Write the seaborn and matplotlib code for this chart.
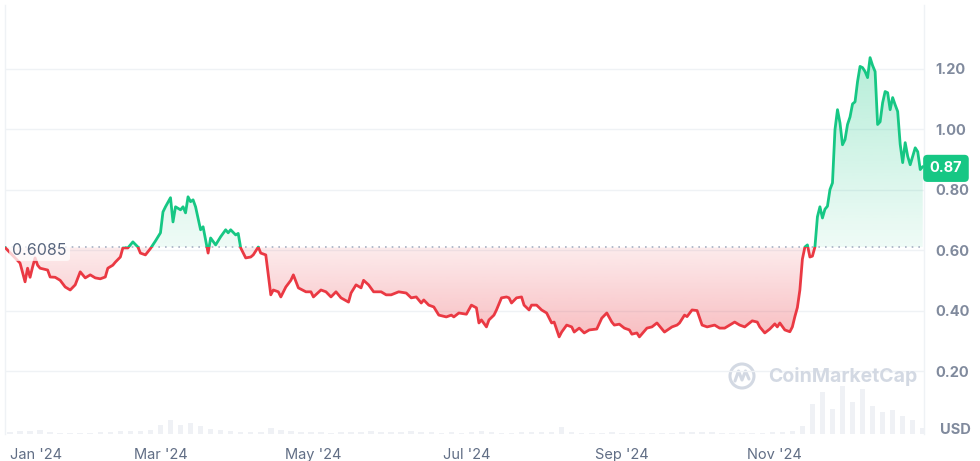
import numpy as np
import pandas as pd
import matplotlib
matplotlib.use("Agg")
import matplotlib.pyplot as plt
import matplotlib.dates as mdates
from matplotlib.path import Path
from matplotlib.patches import Circle
from matplotlib.lines import Line2D
from matplotlib.transforms import blended_transform_factory
import seaborn as sns

# price readings (USD)
dates = [
    '2023-12-30', '2024-01-03', '2024-01-05', '2024-01-07', '2024-01-08', '2024-01-09', '2024-01-10',
    '2024-01-11', '2024-01-12', '2024-01-13', '2024-01-16', '2024-01-17', '2024-01-19', '2024-01-21',
    '2024-01-23', '2024-01-25', '2024-01-27', '2024-01-29', '2024-01-31', '2024-02-02', '2024-02-04',
    '2024-02-06', '2024-02-08', '2024-02-09', '2024-02-11', '2024-02-12', '2024-02-14', '2024-02-15',
    '2024-02-17', '2024-02-19', '2024-02-21', '2024-02-22', '2024-02-24', '2024-02-26', '2024-02-28',
    '2024-03-01', '2024-03-02', '2024-03-03', '2024-03-05', '2024-03-06', '2024-03-07', '2024-03-09',
    '2024-03-10', '2024-03-11', '2024-03-12', '2024-03-13', '2024-03-14', '2024-03-15', '2024-03-17',
    '2024-03-18', '2024-03-20', '2024-03-21', '2024-03-23', '2024-03-25', '2024-03-27', '2024-03-28',
    '2024-03-29', '2024-03-31', '2024-04-01', '2024-04-02', '2024-04-04', '2024-04-06', '2024-04-07',
    '2024-04-09', '2024-04-10', '2024-04-12', '2024-04-14', '2024-04-15', '2024-04-17', '2024-04-18',
    '2024-04-20', '2024-04-22', '2024-04-23', '2024-04-25', '2024-04-28', '2024-04-30', '2024-05-01',
    '2024-05-04', '2024-05-06', '2024-05-08', '2024-05-10', '2024-05-12', '2024-05-15', '2024-05-16',
    '2024-05-18', '2024-05-20', '2024-05-21', '2024-05-23', '2024-05-25', '2024-05-28', '2024-05-30',
    '2024-06-01', '2024-06-04', '2024-06-07', '2024-06-09', '2024-06-11', '2024-06-13', '2024-06-14',
    '2024-06-16', '2024-06-18', '2024-06-20', '2024-06-23', '2024-06-25', '2024-06-26', '2024-06-28',
    '2024-07-01', '2024-07-03', '2024-07-05', '2024-07-06', '2024-07-07', '2024-07-09', '2024-07-10',
    '2024-07-12', '2024-07-13', '2024-07-15', '2024-07-17', '2024-07-18', '2024-07-19', '2024-07-21',
    '2024-07-23', '2024-07-24', '2024-07-26', '2024-07-27', '2024-07-29', '2024-07-31', '2024-08-02',
    '2024-08-04', '2024-08-05', '2024-08-07', '2024-08-08', '2024-08-10', '2024-08-12', '2024-08-13',
    '2024-08-15', '2024-08-17', '2024-08-19', '2024-08-22', '2024-08-24', '2024-08-26', '2024-08-28',
    '2024-08-29', '2024-08-31', '2024-09-02', '2024-09-04', '2024-09-05', '2024-09-07', '2024-09-08',
    '2024-09-11', '2024-09-13', '2024-09-15', '2024-09-18', '2024-09-21', '2024-09-23', '2024-09-24',
    '2024-09-26', '2024-09-27', '2024-09-29', '2024-10-01', '2024-10-03', '2024-10-05', '2024-10-08',
    '2024-10-10', '2024-10-12', '2024-10-14', '2024-10-16', '2024-10-18', '2024-10-20', '2024-10-23',
    '2024-10-25', '2024-10-26', '2024-10-28', '2024-10-30', '2024-11-01', '2024-11-02', '2024-11-03',
    '2024-11-05', '2024-11-07', '2024-11-08', '2024-11-09', '2024-11-10', '2024-11-11', '2024-11-12',
    '2024-11-13', '2024-11-14', '2024-11-15', '2024-11-16', '2024-11-17', '2024-11-18', '2024-11-19',
    '2024-11-20', '2024-11-21', '2024-11-22', '2024-11-23', '2024-11-24', '2024-11-25', '2024-11-26',
    '2024-11-27', '2024-11-28', '2024-11-29', '2024-11-30', '2024-12-01', '2024-12-02', '2024-12-03',
    '2024-12-04', '2024-12-05', '2024-12-06', '2024-12-07', '2024-12-08', '2024-12-09', '2024-12-10',
    '2024-12-11', '2024-12-12', '2024-12-13', '2024-12-14', '2024-12-15', '2024-12-16', '2024-12-17',
    '2024-12-18', '2024-12-19', '2024-12-20', '2024-12-21', '2024-12-22', '2024-12-23', '2024-12-24',
    '2024-12-25', '2024-12-26', '2024-12-27', '2024-12-28', '2024-12-29', '2024-12-30',
]
prices = [
    0.6085, 0.574, 0.557, 0.495, 0.540, 0.510, 0.544,
    0.574, 0.550, 0.540, 0.534, 0.511, 0.510, 0.500,
    0.478, 0.468, 0.485, 0.528, 0.508, 0.518, 0.508,
    0.505, 0.511, 0.540, 0.550, 0.560, 0.577, 0.607,
    0.607, 0.627, 0.610, 0.590, 0.584, 0.605, 0.630,
    0.657, 0.726, 0.743, 0.773, 0.693, 0.743, 0.733,
    0.743, 0.723, 0.776, 0.760, 0.766, 0.743, 0.667,
    0.677, 0.590, 0.640, 0.617, 0.644, 0.667, 0.657,
    0.667, 0.650, 0.655, 0.607, 0.574, 0.577, 0.584,
    0.610, 0.590, 0.584, 0.452, 0.468, 0.462, 0.445,
    0.478, 0.500, 0.518, 0.475, 0.462, 0.462, 0.445,
    0.468, 0.462, 0.445, 0.462, 0.442, 0.428, 0.458,
    0.485, 0.475, 0.500, 0.485, 0.462, 0.462, 0.452,
    0.452, 0.462, 0.458, 0.442, 0.445, 0.425, 0.435,
    0.418, 0.412, 0.385, 0.379, 0.385, 0.379, 0.392,
    0.388, 0.418, 0.409, 0.359, 0.369, 0.346, 0.369,
    0.385, 0.402, 0.442, 0.445, 0.442, 0.425, 0.442,
    0.445, 0.418, 0.402, 0.418, 0.418, 0.402, 0.392,
    0.359, 0.362, 0.313, 0.329, 0.352, 0.346, 0.329,
    0.342, 0.326, 0.336, 0.339, 0.375, 0.392, 0.362,
    0.352, 0.355, 0.342, 0.336, 0.322, 0.326, 0.313,
    0.342, 0.346, 0.359, 0.329, 0.346, 0.352, 0.359,
    0.385, 0.380, 0.402, 0.400, 0.352, 0.346, 0.352,
    0.342, 0.342, 0.352, 0.362, 0.352, 0.346, 0.366,
    0.362, 0.346, 0.326, 0.339, 0.356, 0.346, 0.359,
    0.336, 0.330, 0.346, 0.380, 0.410, 0.468, 0.570,
    0.610, 0.617, 0.577, 0.580, 0.610, 0.710, 0.743,
    0.706, 0.735, 0.745, 0.800, 0.822, 0.998, 1.064,
    1.020, 0.948, 0.965, 1.015, 1.040, 1.083, 1.090,
    1.157, 1.207, 1.203, 1.190, 1.170, 1.236, 1.210,
    1.190, 1.015, 1.024, 1.087, 1.124, 1.120, 1.064,
    1.104, 1.080, 1.058, 0.950, 0.889, 0.955, 0.910,
    0.882, 0.910, 0.938, 0.925, 0.866, 0.876,
]

# volume, one bar per 4 days from the first date (arbitrary units)
volume = [
    2, 3, 3, 4, 2, 1.5, 1.5, 1.5, 1.5, 2, 2.5, 3, 3, 3, 4, 9, 14, 9, 11, 8,
    5, 4, 3, 2.5, 2, 2.5, 6, 4, 3, 2, 2, 2, 1.5, 2, 2, 2.5, 3, 2, 2, 2,
    3.5, 2, 2, 1.5, 2, 1.5, 2, 3.5, 2, 1.5, 1.5, 2, 2, 2, 2, 7, 2, 1.5, 1.5, 1.5,
    2, 1.5, 1.5, 1.5, 1.5, 1.5, 1.5, 2, 2, 2.5, 2, 1.5, 1.5, 1.5, 1.5, 1.5, 2, 2, 3, 8,
    30, 42, 25, 48, 32, 45, 28, 22, 24, 18, 14, 6,
]

base_price = 0.6085
last_price = 0.87
y_ticks = [0.20, 0.40, 0.60, 0.80, 1.00, 1.20]
x_tick_dates = ['2024-01-01', '2024-03-01', '2024-05-01', '2024-07-01', '2024-09-01', '2024-11-01']
x_tick_labels = ["Jan '24", "Mar '24", "May '24", "Jul '24", "Sep '24", "Nov '24"]

GREEN = '#16c784'
RED = '#ea3943'
GRID = '#eff2f5'
LABEL = '#808a9d'

sns.set_theme(style='white')
plt.rcParams['font.family'] = ['Inter', 'DejaVu Sans']

df = pd.DataFrame({'date': pd.to_datetime(dates), 'price': prices})
vol_dates = pd.date_range(dates[0], periods=len(volume), freq='4D') + pd.Timedelta(days=2)

fig = plt.figure(figsize=(9.8, 4.61), dpi=100)
ax = fig.add_axes([5 / 980, 27 / 461, 919 / 980, 429 / 461])
axv = ax.twinx()
ax.set_zorder(2)
axv.set_zorder(1)
ax.patch.set_visible(False)

# volume bars behind the price
axv.bar(vol_dates, volume, width=2.2, color='#eff1f5', linewidth=0)
axv.set_ylim(0, 429)
axv.set_yticks([])
for s in axv.spines.values():
    s.set_visible(False)

x0 = pd.Timestamp(dates[0])
x1 = pd.Timestamp(dates[-1]) + pd.Timedelta(hours=12)
y_lo, y_hi = -0.008, 1.41

# gradient fills between price and baseline
p = df['price'].to_numpy()
up_fill = ax.fill_between(df['date'], p, base_price, where=p >= base_price, interpolate=True,
                          facecolor='none', edgecolor='none')
dn_fill = ax.fill_between(df['date'], p, base_price, where=p <= base_price, interpolate=True,
                          facecolor='none', edgecolor='none')
xn0, xn1 = mdates.date2num(x0), mdates.date2num(x1)


def gradient(color, a_bottom, a_top, ylow, yhigh, clip):
    rgb = matplotlib.colors.to_rgb(color)
    img = np.zeros((100, 1, 4))
    img[..., :3] = rgb
    img[:, 0, 3] = np.linspace(a_bottom, a_top, 100)
    im = ax.imshow(img, extent=[xn0, xn1, ylow, yhigh], origin='lower', aspect='auto',
                   interpolation='bilinear', zorder=1)
    im.set_clip_path(Path.make_compound_path(*clip.get_paths()), ax.transData)


gradient(GREEN, 0.07, 0.32, base_price, 1.25, up_fill)
gradient(RED, 0.34, 0.10, 0.30, base_price, dn_fill)

# price line, green above baseline and red below
sns.lineplot(data=df, x='date', y='price', ax=ax, color=GREEN, linewidth=2.0, zorder=4)
line_up = ax.lines[-1]
sns.lineplot(data=df, x='date', y='price', ax=ax, color=RED, linewidth=2.0, zorder=4)
line_dn = ax.lines[-1]
line_up.set_clip_path(Path([(-1e6, base_price), (1e6, base_price), (1e6, 10), (-1e6, 10), (-1e6, base_price)]), ax.transData)
line_dn.set_clip_path(Path([(-1e6, -10), (1e6, -10), (1e6, base_price), (-1e6, base_price), (-1e6, -10)]), ax.transData)

ax.axhline(base_price, color='#a6b0c3', linewidth=1.2, linestyle=(0, (1, 3)), zorder=3)

ax.set_xlim(x0, x1)
ax.set_ylim(y_lo, y_hi)
ax.set_xlabel('')
ax.set_ylabel('')

ax.set_yticks(y_ticks)
ax.yaxis.set_major_formatter(matplotlib.ticker.FormatStrFormatter('%.2f'))
ax.yaxis.tick_right()
ax.yaxis.grid(True, color=GRID, linewidth=1)
ax.xaxis.grid(False)
ax.tick_params(axis='y', length=0, pad=8, labelsize=10.5, labelcolor=LABEL)
for t in ax.get_yticklabels():
    t.set_fontweight('bold')

ax.set_xticks(pd.to_datetime(x_tick_dates))
ax.set_xticklabels(x_tick_labels)
ax.tick_params(axis='x', length=0, pad=10, labelsize=10.5, labelcolor='#616e85')
ax.get_xticklabels()[0].set_ha('left')

for side in ['top', 'bottom']:
    ax.spines[side].set_visible(False)
for side in ['left', 'right']:
    ax.spines[side].set_color(GRID)
    ax.spines[side].set_linewidth(1)

blend = blended_transform_factory(ax.transAxes, ax.transData)
ax.text(0.008, base_price - 0.009, '0.6085', transform=blend, ha='left', va='center',
        fontsize=11.5, color='#58667e', zorder=6,
        bbox=dict(boxstyle='round,pad=0.2', fc='white', ec='none', alpha=0.75))
ax.text(1.0239, last_price, '0.87', transform=blend, ha='center', va='center',
        fontsize=10.5, fontweight='bold', color='white', clip_on=False, zorder=6,
        bbox=dict(boxstyle='round,pad=0.45,rounding_size=0.3', fc=GREEN, ec='none'))

fig.text(955 / 980, 1 - 430 / 461, 'USD', ha='center', va='center', fontsize=10.5,
         fontweight='bold', color=LABEL)

# watermark
wm = '#d3d9e3'
fig.text(768 / 980, 1 - 376 / 461, 'CoinMarketCap', ha='left', va='center', fontsize=14,
         fontweight='bold', color=wm)
fig.add_artist(Circle((7.42, 0.85), 0.12, transform=fig.dpi_scale_trans, fill=False,
                      ec=wm, lw=2.2))
fig.add_artist(Line2D([7.35, 7.385, 7.42, 7.455, 7.49], [0.80, 0.90, 0.81, 0.90, 0.82],
                      transform=fig.dpi_scale_trans, color=wm, lw=2.2))

fig.savefig('out.png', dpi=100)
